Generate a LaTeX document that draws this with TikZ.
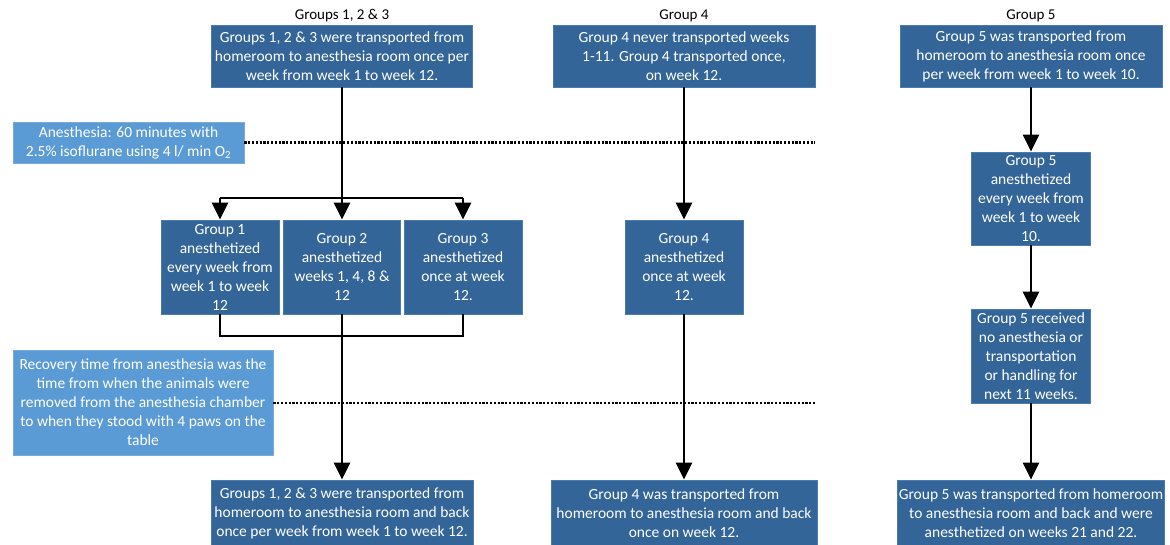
\documentclass[tikz,border=0pt]{standalone}
\usepackage{fontspec}
\setmainfont{Carlito}
\usetikzlibrary{arrows.meta}
\definecolor{darkbox}{RGB}{51,101,153}
\definecolor{darkedge}{RGB}{74,124,176}
\definecolor{lightbox}{RGB}{91,155,213}
\definecolor{lightedge}{RGB}{120,170,220}
\tikzset{
  box/.style={fill=darkbox, draw=darkedge, line width=0.8pt, text=white, align=center, inner sep=0pt, font=\fontsize{15.5}{19}\selectfont},
  notebox/.style={fill=lightbox, draw=lightedge, line width=0.8pt, text=white, align=center, inner sep=0pt, font=\fontsize{15.5}{19}\selectfont},
  header/.style={text=black, font=\fontsize{15}{17}\selectfont, inner sep=0pt},
  conn/.style={draw=black, line width=2.5pt, line join=miter},
  arr/.style={conn, -{Triangle[length=17pt,width=16pt]}},
  dots/.style={draw=black, line width=2.2pt, dash pattern=on 2.2pt off 1.6pt}
}
\begin{document}
\begin{tikzpicture}[x=1pt,y=-1pt]
\useasboundingbox (0,0) rectangle (1170,544);
% headers
\node[header] (h1) at (342,16) {Groups 1, 2 \& 3};
\node[header] (h2) at (684,16) {Group 4};
\node[header] (h3) at (1031,16) {Group 5};
% top boxes
\node[box, minimum width=261pt, minimum height=62pt] (tA) at (342,56) {Groups 1, 2 \& 3 were transported from\\homeroom to anesthesia room once per\\week from week 1 to week 12.};
\node[box, minimum width=262pt, minimum height=62pt] (tB) at (684,56) {Group 4 never transported weeks\\1-11. Group 4 transported once,\\on week 12.};
\node[box, minimum width=262pt, minimum height=62pt] (tC) at (1031,56) {Group 5 was transported from\\homeroom to anesthesia room once\\per week from week 1 to week 10.};
% notes
\node[notebox, minimum width=231pt, minimum height=41pt] (anes) at (128.5,142.5) {Anesthesia: 60 minutes with\\2.5\% isoflurane using 4 l/ min O\textsubscript{2}};
\node[notebox, minimum width=260pt, minimum height=105pt] (rec) at (143,402.5) {Recovery time from anesthesia was the\\time from when the animals were\\removed from the anesthesia chamber\\to when they stood with 4 paws on the\\table};
% middle boxes
\node[box, minimum width=118pt, minimum height=94pt] (g1) at (220,267) {Group 1\\anesthetized\\every week from\\week 1 to week\\12};
\node[box, minimum width=117pt, minimum height=94pt] (g2) at (342,267) {Group 2\\anesthetized\\weeks 1, 4, 8 \&\\12};
\node[box, minimum width=118pt, minimum height=94pt] (g3) at (463,267) {Group 3\\anesthetized\\once at week\\12.};
\node[box, minimum width=118pt, minimum height=94pt] (g4) at (684,267) {Group 4\\anesthetized\\once at week\\12.};
\node[box, minimum width=119pt, minimum height=93pt] (g5a) at (1031,198.5) {Group 5\\anesthetized\\every week from\\week 1 to week\\10.};
\node[box, minimum width=119pt, minimum height=94pt] (g5b) at (1031,356) {Group 5 received\\no anesthesia or\\transportation\\or handling for\\next 11 weeks.};
% bottom boxes
\node[box, minimum width=262pt, minimum height=66pt] (bA) at (342,513) {Groups 1, 2 \& 3 were transported from\\homeroom to anesthesia room and back\\once per week from week 1 to week 12.};
\node[box, minimum width=266pt, minimum height=66pt] (bB) at (684,513) {Group 4 was transported from\\homeroom to anesthesia room and back\\once on week 12.};
\node[box, minimum width=267pt, minimum height=66pt] (bC) at (1031,513) {Group 5 was transported from homeroom\\to anesthesia room and back and were\\anesthetized on weeks 21 and 22.};
% dotted lines
\coordinate (d1) at (815,142.5);
\coordinate (d2) at (815,403);
\draw[dots] (anes.east) -- (d1);
\draw[dots] (rec.east |- d2) -- (d2);
% split to groups 1-3
\coordinate (sp) at (342,198);
\coordinate (jn) at (342,336);
\draw[conn] (g1.north |- sp) -- (g3.north |- sp);
\draw[arr] (tA.south) -- (g2.north);
\draw[arr] (g1.north |- sp) -- (g1.north);
\draw[arr] (g3.north |- sp) -- (g3.north);
% join from groups 1-3
\draw[conn] (g1.south) -- (g1.south |- jn) -- (g3.south |- jn) -- (g3.south);
\draw[arr] (g2.south) -- (bA.north);
% group 4
\draw[arr] (tB.south) -- (g4.north);
\draw[arr] (g4.south) -- (bB.north);
% group 5
\draw[arr] (tC.south) -- (g5a.north);
\draw[arr] (g5a.south) -- (g5b.north);
\draw[arr] (g5b.south) -- (bC.north);
\end{tikzpicture}
\end{document}
